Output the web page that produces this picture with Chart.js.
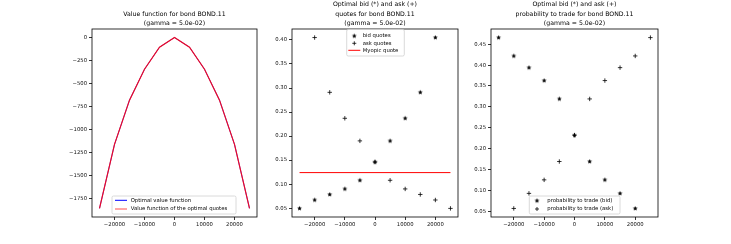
<!DOCTYPE html>
<html>
<head>
<meta charset="utf-8">
<script src="https://cdn.jsdelivr.net/npm/chart.js@4.4.1/dist/chart.umd.min.js"></script>
<style>
  body { margin: 0; background: #fff; }
  #wrap { position: relative; width: 731px; height: 244px; overflow: hidden; }
  canvas { position: absolute; top: 0; }
</style>
</head>
<body>
<div id="wrap">
  <canvas id="valueChart" width="262" height="244" style="left:0px"></canvas>
  <canvas id="quoteChart" width="201" height="244" style="left:262px"></canvas>
  <canvas id="probChart" width="200" height="244" style="left:463px"></canvas>
</div>
<script>
// data
var inventory = [-25000, -20000, -15000, -10000, -5000, 0, 5000, 10000, 15000, 20000, 25000];
var valueFunction = [-1859, -1163, -681, -345, -105, 0, -105, -345, -681, -1163, -1859];
var bidQuotes = [0.0495, 0.067, 0.0785, 0.090, 0.108, 0.146, 0.190, 0.237, 0.291, 0.405, null];
var askQuotes = [null, 0.405, 0.291, 0.237, 0.190, 0.146, 0.108, 0.090, 0.0785, 0.067, 0.0495];
var myopicQuote = 0.124;
var bidProb = [0.466, 0.422, 0.394, 0.363, 0.319, 0.232, 0.169, 0.125, 0.0926, 0.0565, null];
var askProb = [null, 0.0565, 0.0926, 0.125, 0.169, 0.232, 0.319, 0.363, 0.394, 0.422, 0.466];

var xTicks = [-20000, -10000, 0, 10000, 20000];
var valueTicks = [0, -250, -500, -750, -1000, -1250, -1500, -1750];
var quoteTicks = [0.05, 0.10, 0.15, 0.20, 0.25, 0.30, 0.35, 0.40];
var probTicks = [0.05, 0.10, 0.15, 0.20, 0.25, 0.30, 0.35, 0.40, 0.45];

var FONT = 'DejaVu Sans';
var tickFont = { family: FONT, size: 5.3 };

function toPoints(ys) {
  return inventory.map(function(x, i) { return { x: x, y: ys[i] }; })
                  .filter(function(p) { return p.y !== null; });
}

function fmtInt(v) {
  return v < 0 ? '\u2212' + Math.abs(v) : String(v);
}

function makeStar(r) {
  var c = document.createElement('canvas');
  var s = Math.ceil(r * 2) + 2;
  c.width = s; c.height = s;
  var g = c.getContext('2d');
  g.fillStyle = '#000';
  g.beginPath();
  for (var i = 0; i < 10; i++) {
    var rad = i % 2 ? r * 0.45 : r;
    var a = -Math.PI / 2 + i * Math.PI / 5;
    g.lineTo(s / 2 + rad * Math.cos(a), s / 2 + rad * Math.sin(a));
  }
  g.closePath();
  g.fill();
  return c;
}
var star = makeStar(2.5);

function axes(yMin, yMax, yTicks, yFmt, yWidth) {
  var grid = { drawOnChartArea: false, tickColor: '#000', tickLength: 3, tickWidth: 0.8 };
  return {
    x: {
      type: 'linear', min: -27500, max: 27500,
      afterBuildTicks: function(s) { s.ticks = xTicks.map(function(v) { return { value: v }; }); },
      afterFit: function(s) { s.height = 27; },
      grid: grid, border: { display: false },
      ticks: { color: '#111', font: tickFont, padding: 1, maxRotation: 0, autoSkip: false,
               callback: function(v) { return fmtInt(v); } }
    },
    y: {
      type: 'linear', min: yMin, max: yMax,
      afterBuildTicks: function(s) { s.ticks = yTicks.map(function(v) { return { value: v }; }); },
      afterFit: function(s) { s.width = yWidth; },
      grid: grid, border: { display: false },
      ticks: { color: '#111', font: tickFont, padding: 2, autoSkip: false, callback: yFmt }
    }
  };
}

var framePlugin = {
  id: 'frame',
  afterDatasetsDraw: function(chart) {
    var a = chart.chartArea, c = chart.ctx;
    c.save();
    c.strokeStyle = '#000';
    c.lineWidth = 0.8;
    c.strokeRect(a.left, a.top, a.right - a.left, a.bottom - a.top);
    c.restore();
  }
};

var titlePlugin = {
  id: 'panelTitle',
  afterDraw: function(chart, args, opts) {
    var a = chart.chartArea, c = chart.ctx, n = opts.lines.length;
    c.save();
    c.fillStyle = '#000';
    c.font = '6.2px "' + FONT + '"';
    c.textAlign = 'center';
    c.textBaseline = 'middle';
    opts.lines.forEach(function(t, i) {
      c.fillText(t, (a.left + a.right) / 2, 23.8 - (n - 1 - i) * 9.6);
    });
    c.restore();
  }
};

var legendPlugin = {
  id: 'boxLegend',
  afterDraw: function(chart, args, o) {
    var c = chart.ctx;
    c.save();
    c.fillStyle = 'rgba(255,255,255,0.8)';
    c.strokeStyle = 'rgba(204,204,204,0.9)';
    c.lineWidth = 0.8;
    c.beginPath();
    c.roundRect(o.box[0], o.box[1], o.box[2], o.box[3], 1.5);
    c.fill();
    c.stroke();
    c.font = '5.3px "' + FONT + '"';
    c.textBaseline = 'middle';
    chart.data.datasets.forEach(function(ds, i) {
      var y = o.rows[i];
      if (ds.showLine) {
        c.strokeStyle = ds.legendColor || ds.borderColor;
        c.lineWidth = 1;
        c.beginPath();
        c.moveTo(o.markerX - 6, y);
        c.lineTo(o.markerX + 6, y);
        c.stroke();
      } else if (ds.pointStyle === star) {
        c.drawImage(star, o.markerX - star.width / 2, y - star.height / 2);
      } else {
        c.strokeStyle = '#000';
        c.lineWidth = 0.8;
        c.beginPath();
        c.moveTo(o.markerX - 2, y); c.lineTo(o.markerX + 2, y);
        c.moveTo(o.markerX, y - 2); c.lineTo(o.markerX, y + 2);
        c.stroke();
      }
      c.fillStyle = '#000';
      c.fillText(ds.label, o.textX, y);
    });
    c.restore();
  }
};

function baseOptions(scales, title, legend, padRight) {
  return {
    responsive: false,
    animation: false,
    devicePixelRatio: 1,
    layout: { padding: { top: 29, right: padRight, bottom: 0, left: 0 } },
    scales: scales,
    plugins: {
      legend: { display: false },
      tooltip: { enabled: false },
      panelTitle: { lines: title },
      boxLegend: legend
    }
  };
}

var plugins = [framePlugin, titlePlugin, legendPlugin];

new Chart(document.getElementById('valueChart'), {
  type: 'scatter',
  data: {
    datasets: [{
      label: 'Optimal value function',
      data: toPoints(valueFunction),
      showLine: true, pointRadius: 0, borderColor: '#0000ff', borderWidth: 0.7,
      legendColor: '#0000ff',
      order: 1
    }, {
      label: 'Value function of the optimal quotes',
      data: toPoints(valueFunction),
      showLine: true, pointRadius: 0, borderColor: 'rgba(245,0,20,0.92)', borderWidth: 1.2,
      legendColor: 'rgba(255,0,0,0.7)',
      order: 0
    }]
  },
  options: baseOptions(
    axes(-1953, 93, valueTicks, function(v) { return fmtInt(v); }, 92),
    ['Value function for bond BOND.11', '(gamma = 5.0e-02)'],
    { box: [112, 196, 124, 18], rows: [200.3, 209], markerX: 121, textX: 130.7 },
    5),
  plugins: plugins
});

new Chart(document.getElementById('quoteChart'), {
  type: 'scatter',
  data: {
    datasets: [{
      label: 'bid quotes',
      data: toPoints(bidQuotes),
      pointStyle: star, pointRadius: 3
    }, {
      label: 'ask quotes',
      data: toPoints(askQuotes),
      pointStyle: 'cross', pointRadius: 2.2, borderColor: '#000', borderWidth: 0.8
    }, {
      label: 'Myopic quote',
      data: [{ x: inventory[0], y: myopicQuote }, { x: inventory[inventory.length - 1], y: myopicQuote }],
      showLine: true, pointRadius: 0, borderColor: '#ff0000', borderWidth: 1
    }]
  },
  options: baseOptions(
    axes(0.0316, 0.4228, quoteTicks, function(v) { return v.toFixed(2); }, 30),
    ['Optimal bid (*) and ask (+)', 'quotes for bond BOND.11', '(gamma = 5.0e-02)'],
    { box: [84.7, 29.5, 57.6, 26.5], rows: [36, 43.3, 50.3], markerX: 92.3, textX: 100.7 },
    5),
  plugins: plugins
});

new Chart(document.getElementById('probChart'), {
  type: 'scatter',
  data: {
    datasets: [{
      label: 'probability to trade (bid)',
      data: toPoints(bidProb),
      pointStyle: star, pointRadius: 3
    }, {
      label: 'probability to trade (ask)',
      data: toPoints(askProb),
      pointStyle: 'cross', pointRadius: 2.2, borderColor: '#000', borderWidth: 0.8
    }]
  },
  options: baseOptions(
    axes(0.036, 0.4866, probTicks, function(v) { return v.toFixed(2); }, 28),
    ['Optimal bid (*) and ask (+)', 'probability to trade for bond BOND.11', '(gamma = 5.0e-02)'],
    { box: [66.3, 196, 90.7, 18], rows: [200.7, 209], markerX: 74, textX: 84.3 },
    5),
  plugins: plugins
});
</script>
</body>
</html>
